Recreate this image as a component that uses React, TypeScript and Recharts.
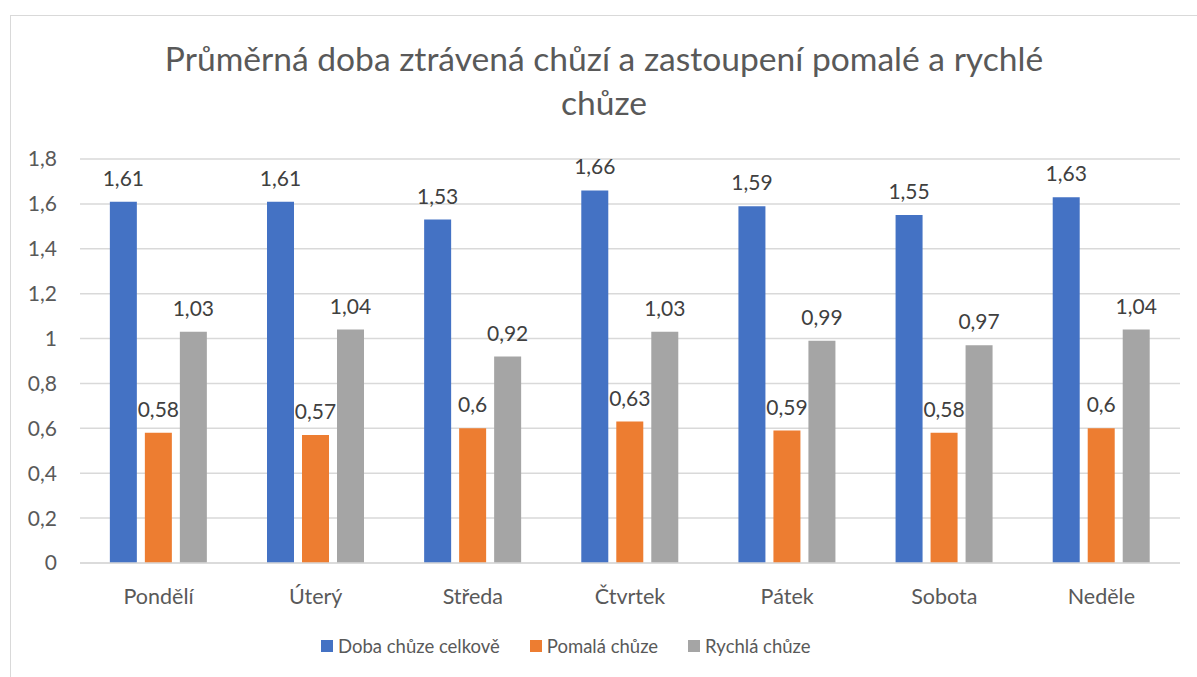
import React from 'react';
import { BarChart, Bar, XAxis, YAxis, CartesianGrid, LabelList } from 'recharts';

const days = ['Pondělí', 'Úterý', 'Středa', 'Čtvrtek', 'Pátek', 'Sobota', 'Neděle'];
const celkem = [1.61, 1.61, 1.53, 1.66, 1.59, 1.55, 1.63];
const pomala = [0.58, 0.57, 0.6, 0.63, 0.59, 0.58, 0.6];
const rychla = [1.03, 1.04, 0.92, 1.03, 0.99, 0.97, 1.04];
const yTicks = [0, 0.2, 0.4, 0.6, 0.8, 1, 1.2, 1.4, 1.6, 1.8];

const SERIES = [
    { key: 'celkem', name: 'Doba chůze celkově', color: '#4472C4' },
    { key: 'pomala', name: 'Pomalá chůze', color: '#ED7D31' },
    { key: 'rychla', name: 'Rychlá chůze', color: '#A5A5A5' },
];

const FONT = 'Lato, "Open Sans", sans-serif';

const data = days.map((d, i) => ({
    day: d,
    celkem: celkem[i],
    pomala: pomala[i],
    rychla: rychla[i],
}));

const fmt = (v: any) => String(Math.round(Number(v) * 100) / 100).replace('.', ',');

// legend drawn outside the chart so it doesn't eat into the plot area
const ChartLegend = () => (
    <div style={{ position: 'absolute', left: 321, top: 635, display: 'flex', gap: 30, fontFamily: FONT, fontSize: 18.5, color: '#595959' }}>
        {SERIES.map(s => (
            <div key={s.key} style={{ display: 'flex', alignItems: 'center' }}>
                <span style={{ width: 12, height: 12, background: s.color, display: 'inline-block', marginRight: 5 }} />
                <span>{s.name}</span>
            </div>
        ))}
    </div>
);

export default function App() {
    return (
        <div style={{ position: 'absolute', left: 0, top: 0, width: 1197, height: 677, overflow: 'hidden', background: '#fff' }}>
            <div style={{ position: 'absolute', left: 10, top: 15, width: 1188, height: 700, border: '1px solid #d9d9d9', boxSizing: 'border-box' }} />
            <div style={{ position: 'absolute', left: 10, top: 36, width: 1188, textAlign: 'center', fontFamily: FONT, fontSize: 33.6, lineHeight: '44px', color: '#595959' }}>
                <div>Průměrná doba ztrávená chůzí a zastoupení pomalé a rychlé</div>
                <div>chůze</div>
            </div>
            <BarChart
                width={1197}
                height={677}
                data={data}
                margin={{ top: 159, right: 17, bottom: 74, left: 0 }}
                barCategoryGap="19%"
                barGap={8}
                style={{ position: 'absolute', left: 0, top: 0 }}
            >
                <CartesianGrid vertical={false} stroke="#d9d9d9" strokeWidth={1.5} />
                <XAxis
                    dataKey="day"
                    height={40}
                    axisLine={{ stroke: '#d9d9d9', strokeWidth: 1.5 }}
                    tickLine={false}
                    tickMargin={20}
                    tick={{ fontFamily: FONT, fontSize: 21.5, fill: '#595959' }}
                />
                <YAxis
                    width={80}
                    domain={[0, 1.8]}
                    ticks={yTicks}
                    tickFormatter={fmt}
                    axisLine={false}
                    tickLine={false}
                    tickSize={0}
                    tickMargin={23}
                    tick={{ fontFamily: FONT, fontSize: 21, fill: '#595959' }}
                />
                {SERIES.map(s => (
                    <Bar key={s.key} dataKey={s.key} name={s.name} fill={s.color} isAnimationActive={false}>
                        <LabelList dataKey={s.key} position="top" offset={16} formatter={fmt}
                            style={{ fontFamily: FONT, fontSize: 21, fill: '#404040' }} />
                    </Bar>
                ))}
            </BarChart>
            <ChartLegend />
        </div>
    );
}
